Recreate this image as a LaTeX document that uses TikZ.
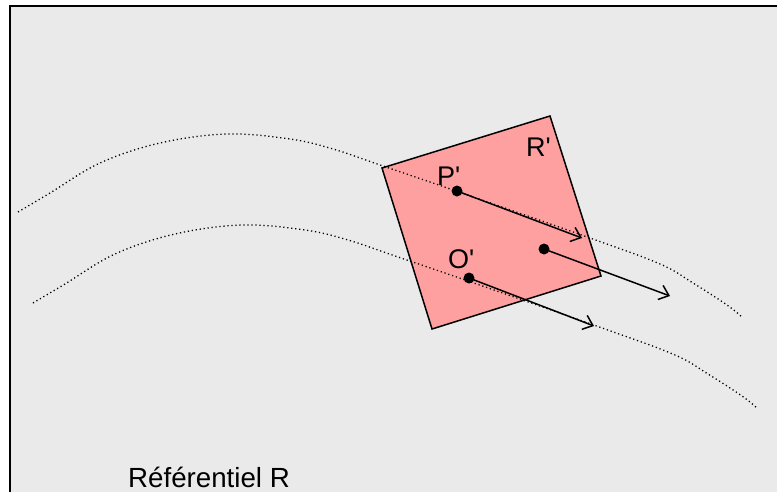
\documentclass[tikz,border=0pt]{standalone}
\usepackage{fontspec}
\setmainfont{Liberation Sans}
\usetikzlibrary{arrows.meta}
\definecolor{bgray}{RGB}{234,234,234}
\definecolor{sqred}{RGB}{255,160,160}
\newcommand{\apos}{\textquotesingle}
\begin{document}
\begin{tikzpicture}[x=1pt,y=-1pt,
  dotpt/.style={circle, fill=black, inner sep=0pt, minimum size=11pt},
  vec/.style={line width=1.5pt, -{Straight Barb[length=9pt,width=15pt,line width=1.5pt]}},
  traj/.style={line width=1.3pt, dash pattern=on 1.2pt off 2.8pt},
  lab/.style={anchor=base west, inner sep=0pt, font=\fontsize{27}{32}\selectfont}]
\useasboundingbox (0,0) rectangle (777,491);
\clip (0,0) rectangle (777,491);
\draw[fill=bgray, line width=2pt] (10,6) rectangle (820,540);
% moving frame R'
\draw[fill=sqred, line width=1.5pt] (382,168) -- (550,116) -- (601,276) -- (432,329) -- cycle;
% trajectories
\draw[traj] plot[smooth, tension=0.6] coordinates {(18,212) (50,193) (100,163) (160,143) (227,134) (290,139) (333,149) (383,166) (456,191) (590,238) (660,264) (693,283) (727,305) (742,317)};
\draw[traj, shift={(15,91)}] plot[smooth, tension=0.6] coordinates {(18,212) (50,193) (100,163) (160,143) (227,134) (290,139) (333,149) (383,166) (456,191) (590,238) (660,264) (693,283) (727,305) (742,317)};
% points
\node[dotpt] (P) at (457,191) {};
\node[dotpt] (M) at (544,249) {};
\node[dotpt] (O) at (469,278) {};
\coordinate (Pt) at (582,238);
\coordinate (Mt) at (670,296);
\coordinate (Ot) at (594,326);
\draw[vec] (P.center) -- (Pt);
\draw[vec] (M.center) -- (Mt);
\draw[vec] (O.center) -- (Ot);
% labels
\node[lab] (lP) at (437,185) {P\apos};
\node[lab] (lO) at (448,268) {O\apos};
\node[lab] (lR) at (526,156) {R\apos};
\node[lab, font=\fontsize{27.7}{33}\selectfont] (lRef) at (128,487) {Référentiel R};
\end{tikzpicture}
\end{document}
